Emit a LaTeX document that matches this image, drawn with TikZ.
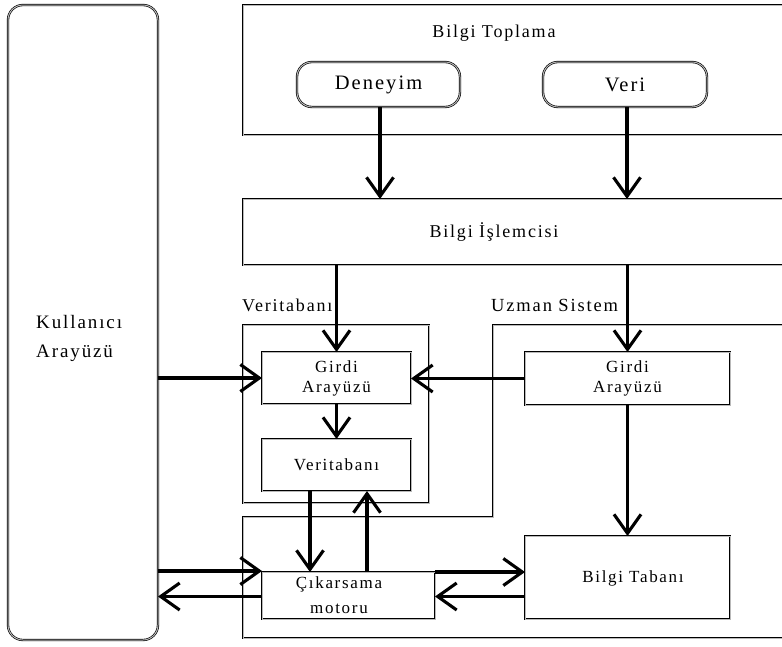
\documentclass[tikz,border=0pt]{standalone}
\usepackage{fontspec}
\setmainfont{Liberation Serif}[LetterSpace=10]
\usetikzlibrary{arrows.meta}
\begin{document}
\begin{tikzpicture}[x=1pt,y=-1pt,
  frame/.style={draw=black, line width=0.65pt, double=gray!55, double distance=1pt},
  box/.style={frame, fill=white, inner sep=0pt, outer sep=0pt, anchor=north west,
    align=center, font=\fontsize{17}{20}\selectfont},
  pill/.style={box, rounded corners=15pt},
  conn/.style={line width=3.3pt, -{Straight Barb[length=19pt,width=27pt,line width=3.1pt]}},
  lbl/.style={font=\fontsize{18}{22}\selectfont, inner sep=0pt}
]
\useasboundingbox (0,0) rectangle (782,646);
\begin{scope}
\clip (0,0) rectangle (782,646);

% outer regions
\draw[frame] (243,5) rectangle (800,135);
\node[lbl] (toplama) at (494,33) {Bilgi Toplama};

\node[box, minimum width=557pt, minimum height=66pt] (islem) at (243,199) {};
\node[lbl] (islemtxt) at (494,232) {Bilgi İşlemcisi};

\draw[frame] (243,325) rectangle (429,503);
\node[lbl, anchor=west] (vtlbl) at (242,305) {Veritabanı};

\draw[frame] (493,325) -- (800,325) -- (800,638) -- (243,638) -- (243,517) -- (493,517) -- cycle;
\node[lbl, anchor=west, font=\fontsize{18.5}{22}\selectfont] (uslbl) at (491,305) {Uzman Sistem};

% user interface column
\node[pill, minimum width=150pt, minimum height=635pt] (kul) at (8,5) {};
\node[lbl, anchor=north west, align=left, font=\fontsize{19}{29}\selectfont] (kultxt) at (36,315)
  {Kullanıcı\\Arayüzü};

% sources
\node[pill, minimum width=163pt, minimum height=45pt, font=\fontsize{20.5}{24}\selectfont] (deneyim) at (297,62) {Deneyim};
\node[pill, minimum width=164pt, minimum height=45pt, font=\fontsize{20.5}{24}\selectfont] (veri) at (543,62) {Veri};

% inner blocks
\node[box, minimum width=149pt, minimum height=52pt] (girdiL) at (262,352) {Girdi\\Arayüzü};
\node[box, minimum width=149pt, minimum height=52pt] (vdb) at (262,439) {Veritabanı};
\node[box, minimum width=205pt, minimum height=53pt] (girdiR) at (525,352) {Girdi\\Arayüzü};
\node[box, minimum width=173pt, minimum height=47pt] (cik) at (262,572) {};
\node[inner sep=0pt, align=center, font=\fontsize{17}{25}\selectfont] (ciktxt) at (339,595) {Çıkarsama\\motoru};
\node[box, minimum width=205pt, minimum height=83pt] (bt) at (525,536) {};
\node[inner sep=0pt, font=\fontsize{17}{20}\selectfont] (bttxt) at (633,578) {Bilgi Tabanı};

\end{scope}

% connectors
\draw[conn] ([xshift=1.5pt]deneyim.south) -- ([xshift=1.5pt]deneyim.south |- islem.north);
\draw[conn] ([xshift=2pt]veri.south) -- ([xshift=2pt]veri.south |- islem.north);
\draw[conn] (girdiL.north |- islem.south) -- (girdiL.north);
\draw[conn] (girdiR.north |- islem.south) -- (girdiR.north);
\draw[conn] (girdiL.south) -- (vdb.north);
\draw[conn] (kul.east |- girdiL.west) -- (girdiL.west);
\draw[conn] (girdiR.west) -- (girdiR.west -| girdiL.east);
\draw[conn] ([xshift=-26.5pt]vdb.south) -- ([xshift=-26.5pt]vdb.south |- cik.north);
\draw[conn] ([xshift=30.5pt]vdb.south |- cik.north) -- ([xshift=30.5pt]vdb.south);
\draw[conn] (girdiR.south) -- (girdiR.south |- bt.north);
\draw[conn] ([yshift=1pt]kul.east |- cik.north west) -- ([yshift=1pt]cik.north west);
\draw[conn] ([yshift=-1pt]cik.west) -- ([yshift=-1pt]cik.west -| kul.east);
\draw[conn] (cik.north east) -- (cik.north east -| bt.west);
\draw[conn] ([yshift=-1pt]bt.west |- cik.east) -- ([yshift=-1pt]cik.east);
\end{tikzpicture}
\end{document}
